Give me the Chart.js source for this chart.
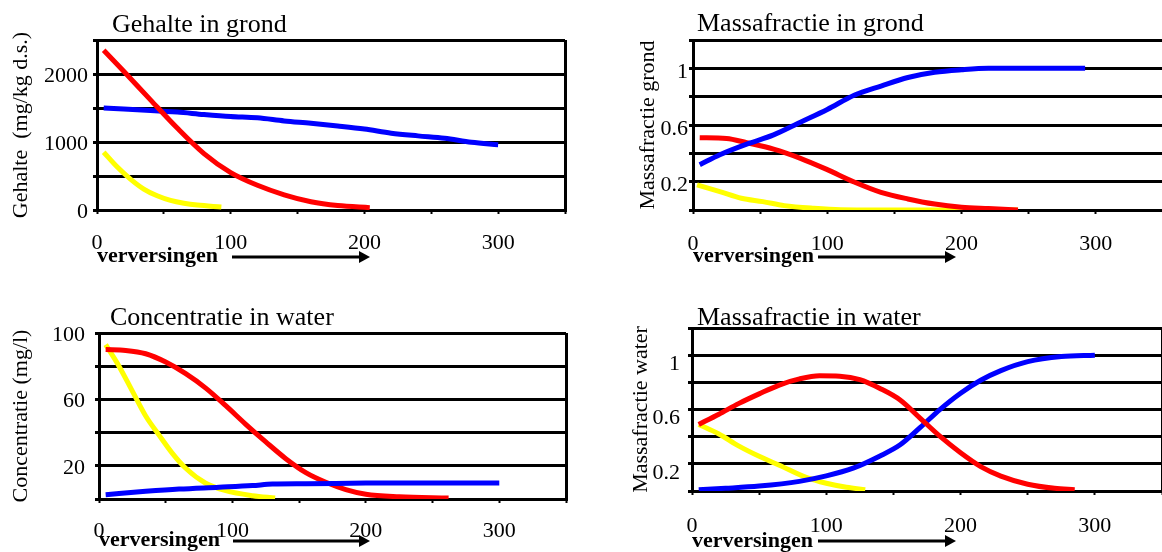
<!DOCTYPE html>
<html>
<head>
<meta charset="utf-8">
<script src="https://cdn.jsdelivr.net/npm/chart.js@4.4.0/dist/chart.umd.min.js"></script>
<style>
  html, body { margin: 0; padding: 0; background: #fff; overflow: hidden; width: 1162px; height: 552px; }
  canvas { position: absolute; }
</style>
</head>
<body>
<canvas id="gehalteGrond" width="581" height="276" style="left:0;top:0"></canvas>
<canvas id="fractieGrond" width="560" height="276" style="left:620px;top:0"></canvas>
<canvas id="concWater" width="581" height="290" style="left:0;top:276px"></canvas>
<canvas id="fractieWater" width="560" height="290" style="left:620px;top:276px"></canvas>
<script>
// x-as: aantal verversingen, labels op de as
var xLabels = [0, 100, 200, 300];

// --- Gehalte in grond (mg/kg d.s.) ---
var gehRoodX = [5, 20, 40, 60, 80, 100, 120, 140, 160, 180, 204];
var gehRood = [2350, 2040, 1620, 1205, 830, 550, 363, 223, 121, 65, 35];
var gehBlauwX = [5, 20, 40, 60, 80, 100, 120, 140, 160, 180, 200, 220, 240, 260, 280, 300];
var gehBlauw = [1500, 1485, 1465, 1440, 1405, 1375, 1355, 1310, 1275, 1235, 1190, 1130, 1090, 1055, 995, 960];
var gehGeelX = [5, 15, 25, 35, 45, 55, 65, 75, 93];
var gehGeel = [850, 635, 455, 308, 209, 141, 99, 72, 45];
var gehYLabels = ['0', '1000', '2000'];

// --- Massafractie in grond ---
var mfgBlauwX = [5, 20, 40, 60, 80, 100, 120, 140, 160, 180, 200, 220, 240, 260, 292];
var mfgBlauw = [0.32, 0.39, 0.465, 0.53, 0.62, 0.71, 0.81, 0.875, 0.935, 0.972, 0.99, 1.0, 1.0, 1.0, 1.0];
var mfgRoodX = [5, 25, 40, 60, 80, 100, 120, 140, 160, 180, 200, 220, 242];
var mfgRood = [0.51, 0.505, 0.475, 0.43, 0.365, 0.285, 0.198, 0.125, 0.078, 0.042, 0.02, 0.01, 0.0];
var mfgGeelX = [3, 20, 36, 52, 68, 90, 110, 150, 200, 242];
var mfgGeel = [0.177, 0.13, 0.083, 0.059, 0.031, 0.012, 0.002, 0, 0, 0];
var mfgYLabels = ['0.2', '0.6', '1'];

// --- Concentratie in water (mg/l) ---
var cwRoodX = [5, 20, 35, 50, 65, 80, 95, 110, 125, 140, 155, 170, 185, 200, 225, 262];
var cwRood = [90, 89.5, 87.5, 82.5, 75.5, 66.8, 56.2, 45, 34.4, 24.3, 15.9, 10.1, 5.7, 2.9, 1.4, 0.6];
var cwGeelX = [5, 15, 25, 35, 45, 55, 65, 80, 95, 115, 132];
var cwGeel = [93, 80, 65, 50, 38.5, 27.5, 18.5, 9.5, 5, 2, 0.6];
var cwBlauwX = [5, 35, 60, 90, 115, 130, 155, 200, 250, 300];
var cwBlauw = [2.6, 4.6, 6, 7.1, 8.1, 9, 9.2, 9.6, 9.7, 9.7];
var cwYLabels = ['20', '60', '100'];

// --- Massafractie in water ---
var mfwRoodX = [5, 20, 35, 50, 65, 80, 95, 110, 125, 140, 155, 170, 185, 200, 215, 230, 250, 270, 285];
var mfwRood = [0.49, 0.565, 0.645, 0.715, 0.78, 0.825, 0.848, 0.845, 0.82, 0.755, 0.67, 0.535, 0.4, 0.282, 0.18, 0.11, 0.05, 0.02, 0.01];
var mfwBlauwX = [5, 25, 50, 80, 100, 120, 140, 155, 170, 185, 200, 215, 230, 250, 275, 300];
var mfwBlauw = [0.01, 0.02, 0.036, 0.071, 0.111, 0.168, 0.258, 0.34, 0.468, 0.603, 0.72, 0.815, 0.886, 0.952, 0.99, 1.0];
var mfwGeelX = [5, 20, 35, 50, 65, 85, 100, 115, 129];
var mfwGeel = [0.49, 0.42, 0.33, 0.255, 0.19, 0.10, 0.057, 0.028, 0.01];
var mfwYLabels = ['0.2', '0.6', '1'];

var ROOD = '#ff0000', BLAUW = '#0000ff', GEEL = '#ffff00';
var LETTER = '"Liberation Serif", "Times New Roman", serif';

function punten(xs, ys) {
    return xs.map(function (x, i) { return { x: x, y: ys[i] }; });
}

function lijn(kleur, xs, ys) {
    return {
        data: punten(xs, ys),
        borderColor: kleur,
        borderWidth: 5,
        pointRadius: 0,
        fill: false,
        cubicInterpolationMode: 'monotone'
    };
}

// zoekt het label dat bij een tickwaarde hoort (afrondingsfouten van 0.2-stappen)
function labelVoor(lijst, v) {
    for (var i = 0; i < lijst.length; i++) {
        if (Math.abs(parseFloat(lijst[i]) - v) < 1e-6) return lijst[i];
    }
    return '';
}

// titel boven de grafiek en de pijl naast "verversingen"
var paneelPlugin = {
    id: 'paneel',
    afterDraw: function (chart, args, opts) {
        var ctx = chart.ctx;
        var ca = chart.chartArea;
        ctx.save();
        ctx.fillStyle = '#000';
        ctx.font = '26px ' + LETTER;
        ctx.textBaseline = 'alphabetic';
        ctx.textAlign = 'left';
        ctx.fillText(opts.titel, ca.left + opts.titelDx, opts.titelY);

        var y = opts.pijlY;
        var x0 = ca.left + opts.pijlVan;
        var x1 = ca.left + opts.pijlTot;
        ctx.strokeStyle = '#000';
        ctx.lineWidth = 3;
        ctx.beginPath();
        ctx.moveTo(x0, y);
        ctx.lineTo(x1 - 8, y);
        ctx.stroke();
        ctx.beginPath();
        ctx.moveTo(x1, y);
        ctx.lineTo(x1 - 11, y - 6);
        ctx.lineTo(x1 - 11, y + 6);
        ctx.closePath();
        ctx.fill();
        ctx.restore();
    }
};

function maakGrafiek(id, c) {
    new Chart(document.getElementById(id), {
        type: 'line',
        data: { datasets: c.reeksen },
        plugins: [paneelPlugin],
        options: {
            responsive: false,
            animation: false,
            devicePixelRatio: 1,
            layout: { padding: { top: c.boven, right: c.rechts, left: 0, bottom: 0 } },
            plugins: {
                legend: { display: false },
                tooltip: { enabled: false },
                paneel: c.paneel
            },
            scales: {
                x: {
                    type: 'linear',
                    min: 0,
                    max: 350,
                    ticks: {
                        stepSize: 50,
                        autoSkip: false,
                        maxRotation: 0,
                        padding: c.xPad,
                        color: '#000',
                        font: { family: LETTER, size: 22 },
                        callback: function (v) { return xLabels.indexOf(v) >= 0 ? String(v) : ''; }
                    },
                    grid: {
                        color: function (g) { return g.tick && g.tick.value === 350 ? '#000' : 'rgba(0,0,0,0)'; },
                        lineWidth: 3,
                        tickColor: '#000',
                        tickLength: 4,
                        tickWidth: 2
                    },
                    border: { color: '#000', width: 3 },
                    title: {
                        display: true,
                        text: 'verversingen',
                        align: 'start',
                        color: '#000',
                        font: { family: LETTER, size: 22, weight: 'bold' },
                        padding: { top: 0, bottom: c.xTitelPad }
                    },
                    afterFit: function (s) { s.height = c.xHoogte; }
                },
                y: {
                    min: 0,
                    max: c.yMax,
                    ticks: {
                        stepSize: c.yStap,
                        autoSkip: false,
                        padding: c.yPad,
                        labelOffset: c.labelOffset,
                        color: '#000',
                        font: { family: LETTER, size: 22 },
                        callback: function (v) { return labelVoor(c.yLabels, v); }
                    },
                    grid: { color: '#000', lineWidth: 3, tickLength: 4, tickColor: '#000' },
                    border: { color: '#000', width: 3 },
                    title: {
                        display: true,
                        text: c.yTitel,
                        color: '#000',
                        font: { family: LETTER, size: 22 },
                        padding: { top: c.yTitelPad, bottom: 0 }
                    },
                    afterFit: function (s) { s.width = c.yBreedte; }
                }
            }
        }
    });
}

maakGrafiek('gehalteGrond', {
    reeksen: [lijn(ROOD, gehRoodX, gehRood), lijn(BLAUW, gehBlauwX, gehBlauw), lijn(GEEL, gehGeelX, gehGeel)],
    boven: 40, rechts: 5, yBreedte: 97, xHoogte: 66,
    yMax: 2500, yStap: 500, yLabels: gehYLabels, yPad: 5, labelOffset: 2,
    yTitel: 'Gehalte  (mg/kg d.s.)', yTitelPad: 8,
    xPad: 16, xTitelPad: 6,
    paneel: { titel: 'Gehalte in grond', titelDx: 15, titelY: 32, pijlVan: 135, pijlTot: 273, pijlY: 257 }
});

maakGrafiek('fractieGrond', {
    reeksen: [lijn(BLAUW, mfgBlauwX, mfgBlauw), lijn(ROOD, mfgRoodX, mfgRood), lijn(GEEL, mfgGeelX, mfgGeel)],
    boven: 40, rechts: 4, yBreedte: 73, xHoogte: 66,
    yMax: 1.2, yStap: 0.2, yLabels: mfgYLabels, yPad: 1, labelOffset: 4,
    yTitel: 'Massafractie grond', yTitelPad: 15,
    xPad: 17, xTitelPad: 6,
    paneel: { titel: 'Massafractie in grond', titelDx: 4, titelY: 31, pijlVan: 125, pijlTot: 263, pijlY: 257 }
});

maakGrafiek('concWater', {
    reeksen: [lijn(BLAUW, cwBlauwX, cwBlauw), lijn(ROOD, cwRoodX, cwRood), lijn(GEEL, cwGeelX, cwGeel)],
    boven: 57, rechts: 6, yBreedte: 99, xHoogte: 67,
    yMax: 100, yStap: 20, yLabels: cwYLabels, yPad: 10, labelOffset: 2,
    yTitel: 'Concentratie (mg/l)', yTitelPad: 8,
    xPad: 15, xTitelPad: 12,
    paneel: { titel: 'Concentratie in water', titelDx: 11, titelY: 49, pijlVan: 134, pijlTot: 271, pijlY: 265 }
});

maakGrafiek('fractieWater', {
    reeksen: [lijn(ROOD, mfwRoodX, mfwRood), lijn(BLAUW, mfwBlauwX, mfwBlauw), lijn(GEEL, mfwGeelX, mfwGeel)],
    boven: 52, rechts: 5, yBreedte: 72, xHoogte: 75,
    yMax: 1.2, yStap: 0.2, yLabels: mfwYLabels, yPad: 8, labelOffset: 9,
    yTitel: 'Massafractie water', yTitelPad: 8,
    xPad: 18, xTitelPad: 11,
    paneel: { titel: 'Massafractie in water', titelDx: 5, titelY: 49, pijlVan: 126, pijlTot: 264, pijlY: 265 }
});
</script>
</body>
</html>
